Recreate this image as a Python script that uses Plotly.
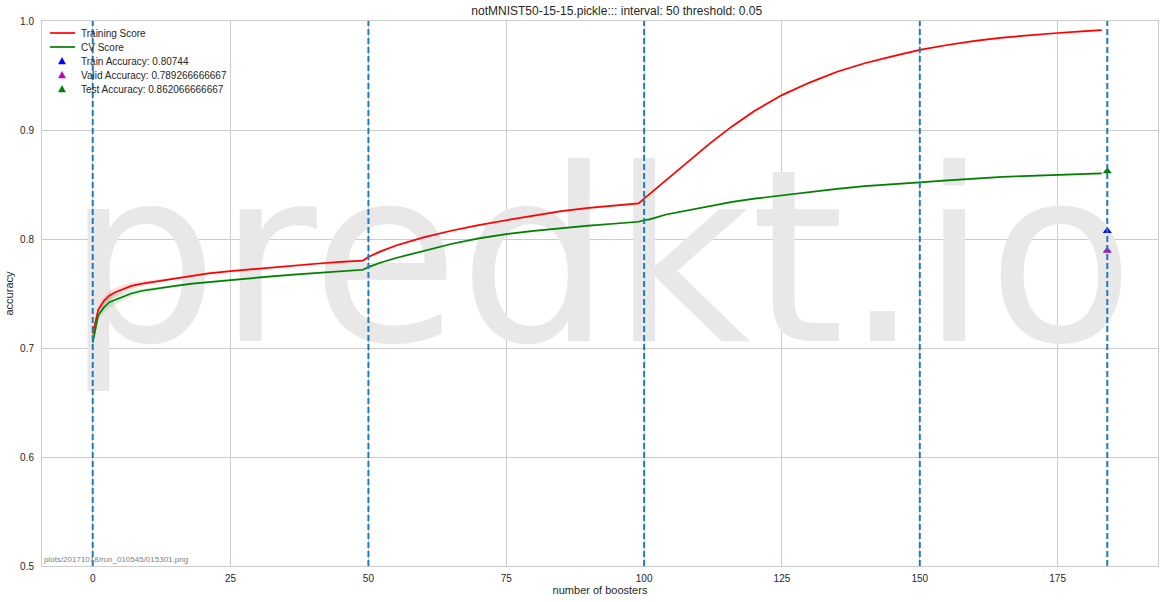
import plotly.graph_objects as go

title = "notMNIST50-15-15.pickle::: interval: 50 threshold: 0.05"
boosters = [0, 1, 2, 3, 4, 5, 7, 9, 12, 15, 18, 21, 25, 29, 33, 37, 41, 45, 48, 49, 50, 52, 55,
            60, 65, 70, 75, 80, 85, 90, 95, 99, 100, 101, 104, 108, 112, 116, 120, 125, 130,
            135, 140, 145, 150, 155, 160, 165, 170, 175, 180, 183]
train_score = [0.713, 0.735, 0.743, 0.748, 0.751, 0.753, 0.757, 0.759, 0.7615, 0.764, 0.7665,
               0.7685, 0.7706, 0.7725, 0.7742, 0.7758, 0.7775, 0.779, 0.7798, 0.7802, 0.7835,
               0.7882, 0.794, 0.8015, 0.8076, 0.8128, 0.8172, 0.8215, 0.8255, 0.8285, 0.8308,
               0.8327, 0.837, 0.8412, 0.854, 0.8715, 0.888, 0.9035, 0.9175, 0.932, 0.9435, 0.9535,
               0.9612, 0.9675, 0.9735, 0.978, 0.9818, 0.9848, 0.987, 0.989, 0.9907, 0.9917]
train_std = [0.002, 0.003, 0.004, 0.004, 0.004, 0.004, 0.003, 0.002, 0.0015, 0.001, 0.001,
             0.001, 0.001, 0.001, 0.001, 0.001, 0.001, 0.001, 0.001, 0.001, 0.001, 0.001, 0.001,
             0.001, 0.001, 0.001, 0.001, 0.001, 0.001, 0.001, 0.001, 0.001, 0.001, 0.001, 0.001,
             0.001, 0.001, 0.001, 0.001, 0.001, 0.001, 0.001, 0.001, 0.001, 0.001, 0.001, 0.001,
             0.001, 0.001, 0.001, 0.001, 0.001]
cv_score = [0.705, 0.730, 0.737, 0.742, 0.744, 0.746, 0.750, 0.7525, 0.755, 0.757, 0.759, 0.7605,
            0.7625, 0.7645, 0.766, 0.7675, 0.7688, 0.7703, 0.7714, 0.7718, 0.7742, 0.778, 0.7826,
            0.789, 0.7954, 0.8005, 0.8045, 0.8075, 0.81, 0.8122, 0.8142, 0.8158, 0.8172, 0.818,
            0.8225, 0.8265, 0.8305, 0.834, 0.837, 0.8402, 0.8432, 0.846, 0.8485, 0.8505, 0.852,
            0.8538, 0.8555, 0.857, 0.858, 0.8588, 0.8598, 0.8602]
cv_std = [0.003, 0.004, 0.005, 0.005, 0.005, 0.004, 0.003, 0.002, 0.0015, 0.001, 0.001, 0.001,
          0.001, 0.001, 0.001, 0.001, 0.001, 0.001, 0.001, 0.001, 0.001, 0.001, 0.001, 0.001,
          0.001, 0.001, 0.001, 0.001, 0.001, 0.001, 0.001, 0.001, 0.001, 0.001, 0.001, 0.001,
          0.001, 0.001, 0.001, 0.001, 0.001, 0.001, 0.001, 0.001, 0.001, 0.001, 0.001, 0.001,
          0.001, 0.001, 0.001, 0.001]
final_booster = 184
accuracy_names = ["Train Accuracy: 0.80744", "Valid Accuracy: 0.789266666667", "Test Accuracy: 0.862066666667"]
accuracy_values = [0.80744, 0.789266666667, 0.862066666667]
accuracy_colors = ["#0000ff", "#bf00bf", "#008000"]
line_names = ["Training Score", "CV Score"]
line_colors = ["#ff0000", "#008000"]
interval_marks = [0, 50, 100, 150, 184]
x_ticks = [0, 25, 50, 75, 100, 125, 150, 175]
y_ticks = [0.5, 0.6, 0.7, 0.8, 0.9, 1.0]
footer = "plots/20171018/run_010545/015301.png"
watermark = "predkt.io"

W, H = 1165, 602
ML, MR, MT, MB = 42, 7, 21, 36
PW, PH = W - ML - MR, H - MT - MB
X_RANGE = [-9.2, 193.2]
Y_RANGE = [0.5, 1.0]


def px(xp):
    return (xp - ML) / PW


def py(yp):
    return (H - MB - yp) / PH


def to_data_x(xp):
    return X_RANGE[0] + px(xp) * (X_RANGE[1] - X_RANGE[0])


def to_data_y(yp):
    return Y_RANGE[0] + py(yp) * (Y_RANGE[1] - Y_RANGE[0])


fig = go.Figure()

# watermark (layout decoration), placed under the data lines
fig.add_trace(go.Scatter(x=[to_data_x(600)], y=[to_data_y(281)],
                         mode="text", text=[watermark],
                         textfont=dict(family="DejaVu Sans", size=240, color="#e8e8e8"),
                         textposition="middle center", showlegend=False, hoverinfo="skip",
                         cliponaxis=True))


def band(xs, ys, ss, color):
    upper = [y + s for y, s in zip(ys, ss)]
    lower = [y - s for y, s in zip(ys, ss)]
    fig.add_trace(go.Scatter(x=xs + xs[::-1], y=upper + lower[::-1], fill="toself",
                             fillcolor=color, line=dict(width=0), mode="lines",
                             showlegend=False, hoverinfo="skip"))


band(boosters, train_score, train_std, "rgba(255,0,0,0.12)")
band(boosters, cv_score, cv_std, "rgba(0,128,0,0.12)")

for name, ys, col in zip(line_names, [train_score, cv_score], line_colors):
    fig.add_trace(go.Scatter(x=boosters, y=ys, mode="lines", name=name,
                             line=dict(color=col, width=1.7), showlegend=False))
for name, val, col in zip(accuracy_names, accuracy_values, accuracy_colors):
    fig.add_trace(go.Scatter(x=[final_booster], y=[val], mode="markers", name=name,
                             marker=dict(symbol="triangle-up", size=8, color=col),
                             showlegend=False))

for xv in interval_marks:
    fig.add_shape(type="line", xref="x", yref="paper", x0=xv, x1=xv, y0=0, y1=1,
                  line=dict(color="#1f7bbf", width=2, dash="6px,3px"), layer="above")

# manual legend (matplotlib-like compact rows)
row_y = [33, 47, 61, 75, 89]
legend_font = dict(family="Liberation Sans, Arial", size=10, color="#262626")
for i, (name, col) in enumerate(zip(line_names, line_colors)):
    fig.add_shape(type="line", xref="paper", yref="paper", x0=px(50), x1=px(75),
                  y0=py(row_y[i]), y1=py(row_y[i]), line=dict(color=col, width=1.7))
    fig.add_annotation(text=name, xref="paper", yref="paper", x=px(79), y=py(row_y[i]),
                       xanchor="left", yanchor="middle", showarrow=False, font=legend_font)
for j, (name, col) in enumerate(zip(accuracy_names, accuracy_colors)):
    r = row_y[len(line_names) + j]
    cx = 62
    path = (f"M {px(cx - 3.5)} {py(r + 3)} L {px(cx + 3.5)} {py(r + 3)} "
            f"L {px(cx)} {py(r - 3.5)} Z")
    fig.add_shape(type="path", xref="paper", yref="paper", path=path,
                  fillcolor=col, line=dict(color=col, width=0.5))
    fig.add_annotation(text=name, xref="paper", yref="paper", x=px(79), y=py(r),
                       xanchor="left", yanchor="middle", showarrow=False, font=legend_font)

fig.add_annotation(text=footer, xref="paper", yref="paper", x=0, y=0, xanchor="left",
                   yanchor="bottom", showarrow=False,
                   font=dict(family="Liberation Sans, Arial", size=8, color="#808080"))

axis_common = dict(showgrid=True, gridcolor="#cccccc", gridwidth=1, zeroline=False,
                   showline=True, mirror=True, linecolor="#cccccc", linewidth=1,
                   ticks="", automargin=False,
                   tickfont=dict(family="Liberation Sans, Arial", size=10, color="#262626"))

fig.update_layout(
    width=W, height=H,
    margin=dict(l=ML, r=MR, t=MT, b=MB, autoexpand=False),
    paper_bgcolor="white", plot_bgcolor="white",
    font=dict(family="Liberation Sans, Arial", size=11, color="#262626"),
    title=dict(text=title, x=(ML + PW / 2) / W, xref="paper", xanchor="center",
               y=1 - 11 / H, yanchor="middle",
               font=dict(size=12, color="#262626")),
    xaxis=dict(range=X_RANGE, tickvals=x_ticks, ticklabelstandoff=3,
               title=dict(text="number of boosters", font=dict(size=11), standoff=2), **axis_common),
    yaxis=dict(range=Y_RANGE, tickvals=y_ticks, tickformat=".1f", ticklabelstandoff=5,
               title=dict(text="accuracy", font=dict(size=11), standoff=4), **axis_common),
    showlegend=False,
)

fig.write_html("out.html", config={"displayModeBar": False},
               post_script="document.body.style.margin='0px';")
